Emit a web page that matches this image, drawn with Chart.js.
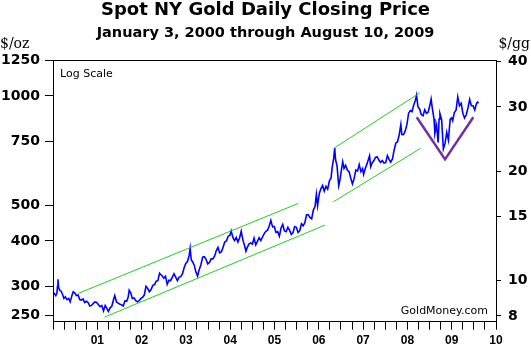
<!DOCTYPE html>
<html>
<head>
<meta charset="utf-8">
<script src="https://cdn.jsdelivr.net/npm/chart.js@4.4.1/dist/chart.umd.min.js"></script>
<style>
  html, body { margin: 0; padding: 0; background: #fff; }
</style>
</head>
<body>
<canvas id="chart" width="531" height="348"></canvas>
<script>
const GRAMS_PER_OZ = 31.1035;

// left axis ($/oz) and right axis ($/gg) tick labels
const ozTicks = [250, 300, 400, 500, 750, 1000, 1250];
const ggTicks = [8, 10, 15, 20, 30, 40];
const ozMin = 240;
const ozMax = 1250;

// spot gold closing price, sampled off the chart (roughly twice a month)
const goldDates = [
  '2000-01-03','2000-01-12','2000-01-24','2000-02-03','2000-02-07','2000-02-11','2000-02-16','2000-02-25','2000-03-08','2000-03-20','2000-03-31','2000-04-12','2000-04-26','2000-05-10','2000-05-22','2000-06-05','2000-06-16','2000-06-28','2000-07-12','2000-07-26','2000-08-09','2000-08-22','2000-09-05','2000-09-19','2000-10-03','2000-10-17','2000-10-31','2000-11-14','2000-11-28','2000-12-12','2000-12-27',
  '2001-01-10','2001-01-24','2001-02-07','2001-02-21','2001-03-07','2001-03-21','2001-04-02','2001-04-17','2001-05-01','2001-05-16','2001-05-25','2001-06-08','2001-06-22','2001-07-06','2001-07-20','2001-08-03','2001-08-17','2001-08-31','2001-09-12','2001-09-21','2001-10-03','2001-10-17','2001-10-31','2001-11-14','2001-11-28','2001-12-12','2001-12-26',
  '2002-01-09','2002-01-23','2002-02-06','2002-02-20','2002-03-06','2002-03-20','2002-04-03','2002-04-17','2002-05-01','2002-05-15','2002-05-29','2002-06-05','2002-06-19','2002-07-03','2002-07-17','2002-07-31','2002-08-14','2002-08-28','2002-09-11','2002-09-25','2002-10-09','2002-10-23','2002-11-06','2002-11-20','2002-12-04','2002-12-18','2002-12-31',
  '2003-01-14','2003-01-28','2003-02-05','2003-02-14','2003-02-28','2003-03-12','2003-03-24','2003-04-07','2003-04-21','2003-05-05','2003-05-19','2003-06-02','2003-06-16','2003-06-30','2003-07-14','2003-07-28','2003-08-11','2003-08-25','2003-09-08','2003-09-22','2003-10-06','2003-10-20','2003-11-03','2003-11-17','2003-12-01','2003-12-15','2003-12-29',
  '2004-01-09','2004-01-23','2004-02-06','2004-02-20','2004-03-05','2004-03-19','2004-04-01','2004-04-15','2004-04-29','2004-05-10','2004-05-21','2004-06-04','2004-06-18','2004-07-02','2004-07-16','2004-07-30','2004-08-13','2004-08-27','2004-09-10','2004-09-24','2004-10-08','2004-10-22','2004-11-05','2004-11-19','2004-12-02','2004-12-16','2004-12-30',
  '2005-01-13','2005-01-27','2005-02-10','2005-02-24','2005-03-10','2005-03-24','2005-04-07','2005-04-21','2005-05-05','2005-05-19','2005-06-02','2005-06-16','2005-06-30','2005-07-14','2005-07-28','2005-08-11','2005-08-25','2005-09-08','2005-09-22','2005-10-06','2005-10-20','2005-11-03','2005-11-17','2005-12-01','2005-12-12','2005-12-22',
  '2006-01-05','2006-01-19','2006-02-01','2006-02-15','2006-03-01','2006-03-15','2006-03-29','2006-04-12','2006-04-21','2006-05-04','2006-05-12','2006-05-19','2006-05-31','2006-06-14','2006-06-23','2006-07-06','2006-07-17','2006-07-28','2006-08-10','2006-08-24','2006-09-07','2006-09-21','2006-10-05','2006-10-19','2006-11-02','2006-11-16','2006-11-30','2006-12-14','2006-12-28',
  '2007-01-05','2007-01-19','2007-02-02','2007-02-23','2007-03-05','2007-03-16','2007-03-30','2007-04-13','2007-04-27','2007-05-11','2007-05-25','2007-06-08','2007-06-22','2007-07-06','2007-07-20','2007-08-03','2007-08-16','2007-08-31','2007-09-14','2007-09-28','2007-10-12','2007-10-26','2007-11-08','2007-11-16','2007-11-30','2007-12-14','2007-12-28',
  '2008-01-11','2008-01-25','2008-02-08','2008-02-22','2008-03-07','2008-03-17','2008-03-28','2008-04-11','2008-04-25','2008-05-09','2008-05-23','2008-06-06','2008-06-20','2008-07-03','2008-07-15','2008-07-25','2008-08-08','2008-08-15','2008-08-29','2008-09-11','2008-09-19','2008-09-26','2008-10-10','2008-10-24','2008-11-07','2008-11-21','2008-12-05','2008-12-19','2008-12-31',
  '2009-01-09','2009-01-23','2009-02-06','2009-02-20','2009-03-06','2009-03-20','2009-04-03','2009-04-17','2009-05-01','2009-05-15','2009-05-29','2009-06-12','2009-06-26','2009-07-10','2009-07-24','2009-08-03','2009-08-10'
];
const goldPrices = [
  285,287,283,288,300,314,299,293,291,285,278,281,276,278,272,283,290,288,283,284,276,275,277,271,273,271,265,266,269,272,271,
  267,264,266,257,266,261,256,262,265,277,283,272,270,268,267,265,274,273,280,293,288,278,279,274,272,274,278,
  280,284,300,296,290,294,302,303,310,311,326,324,321,316,320,304,312,311,318,325,318,311,318,319,325,338,347,
  351,365,382,355,349,342,329,320,334,344,361,362,356,346,349,357,357,363,376,384,371,373,384,397,400,412,414,
  426,409,401,409,397,408,425,402,388,375,384,392,395,392,407,390,399,408,401,410,419,425,428,440,455,437,438,
  422,424,412,434,444,426,424,436,428,417,421,438,436,422,427,446,440,449,472,472,464,460,486,497,537,500,
  540,557,568,548,565,555,584,596,636,676,720,668,644,567,585,625,660,633,645,625,620,595,573,593,626,622,648,620,632,
  609,632,651,685,640,655,664,678,681,667,657,665,654,656,686,670,658,672,711,743,749,784,835,784,783,802,834,
  897,912,905,945,972,1005,933,921,888,882,917,896,902,937,980,925,864,790,831,745,865,894,860,715,741,795,757,862,870,
  855,900,914,995,940,955,897,870,888,927,978,940,940,915,953,962,955
];

// trend channels (green) and the 2008-09 "V" (purple)
const channel1UpperDates = ['2000-07-28', '2005-07-16'];
const channel1UpperPrices = [287, 507];
const channel1LowerDates = ['2001-03-01', '2006-02-21'];
const channel1LowerPrices = [247, 442];
const channel2UpperDates = ['2006-05-10', '2008-04-12'];
const channel2UpperPrices = [720, 1020];
const channel2LowerDates = ['2006-05-01', '2008-04-18'];
const channel2LowerPrices = [512, 718];
const vDates = ['2008-03-18', '2008-11-07', '2009-06-28'];
const vPrices = [874, 670, 874];

function toYear(s) {
  const [y, m, d] = s.split('-').map(Number);
  const start = Date.UTC(y, 0, 1);
  const end = Date.UTC(y + 1, 0, 1);
  return y + (Date.UTC(y, m - 1, d) - start) / (end - start);
}

function points(dates, prices) {
  return dates.map((d, i) => ({ x: toYear(d), y: prices[i] }));
}

function guide(label, dates, prices, color, width) {
  return {
    label: label,
    data: points(dates, prices),
    borderColor: color,
    borderWidth: width,
    pointRadius: 0,
    fill: false,
    tension: 0
  };
}

const GREEN = '#22cc22';
const PURPLE = '#7030a0';

const boldFont = { family: 'DejaVu Sans', size: 14, weight: 'bold' };

// frame, axis units and the two small captions
const extras = {
  id: 'extras',
  afterDraw(chart) {
    const { ctx, chartArea: a } = chart;
    const px = v => Math.round(v - 0.5) + 0.5;
    ctx.save();
    ctx.strokeStyle = '#000';
    ctx.lineWidth = 1;
    ctx.strokeRect(px(a.left), px(a.top), px(a.right) - px(a.left), px(a.bottom) - px(a.top));

    ctx.fillStyle = '#000';
    ctx.textBaseline = 'middle';
    ctx.font = '14px "DejaVu Serif"';
    ctx.textAlign = 'left';
    ctx.fillText('$/oz', 0, 44);
    ctx.textAlign = 'right';
    ctx.fillText('$/gg', 530, 44);

    ctx.font = '11px "DejaVu Sans"';
    ctx.textAlign = 'left';
    ctx.fillText('Log Scale', 60, 74);
    ctx.textAlign = 'right';
    ctx.fillText('GoldMoney.com', 488, 311);
    ctx.restore();
  }
};

new Chart(document.getElementById('chart'), {
  type: 'line',
  data: {
    datasets: [
      guide('Channel 1 upper', channel1UpperDates, channel1UpperPrices, GREEN, 1),
      guide('Channel 1 lower', channel1LowerDates, channel1LowerPrices, GREEN, 1),
      guide('Channel 2 upper', channel2UpperDates, channel2UpperPrices, GREEN, 1),
      guide('Channel 2 lower', channel2LowerDates, channel2LowerPrices, GREEN, 1),
      guide('V', vDates, vPrices, PURPLE, 2.5),
      {
        label: 'Gold',
        data: points(goldDates, goldPrices),
        borderColor: '#0000ff',
        borderWidth: 1.6,
        pointRadius: 0,
        fill: false,
        tension: 0
      }
    ]
  },
  options: {
    responsive: false,
    animation: false,
    layout: { padding: 0 },
    plugins: {
      legend: { display: false },
      tooltip: { enabled: false },
      title: {
        display: true,
        text: 'Spot NY Gold Daily Closing Price',
        color: '#000',
        font: { family: 'DejaVu Sans', size: 18, weight: 'bold' },
        padding: { top: 0, bottom: 0 }
      },
      subtitle: {
        display: true,
        text: 'January 3, 2000 through August 10, 2009',
        color: '#000',
        font: { family: 'DejaVu Sans', size: 14.5, weight: 'bold' },
        padding: { top: 3, bottom: 18.7 }
      }
    },
    scales: {
      x: {
        type: 'linear',
        position: 'bottom',
        min: 2000,
        max: 2010,
        afterFit: s => { s.height = 26.3; },
        grid: { drawOnChartArea: false, drawTicks: true, tickLength: 8, color: '#000' },
        border: { display: true, color: '#000' },
        ticks: {
          stepSize: 0.25,
          autoSkip: false,
          maxRotation: 0,
          padding: 4,
          color: '#000',
          font: { family: 'Liberation Sans', size: 12, weight: 'bold' },
          callback: v => {
            const r = Math.round(v * 4) / 4;
            return (Number.isInteger(r) && r > 2000) ? String(r).slice(2) : '';
          }
        }
      },
      y: {
        type: 'logarithmic',
        position: 'left',
        min: ozMin,
        max: ozMax,
        afterFit: s => { s.width = 53; },
        afterBuildTicks: s => { s.ticks = ozTicks.map(v => ({ value: v })); },
        grid: { drawOnChartArea: false, tickLength: 8, color: '#000' },
        border: { color: '#000' },
        ticks: { autoSkip: false, padding: 5, color: '#000', font: boldFont, callback: v => String(v) }
      },
      y2: {
        type: 'logarithmic',
        position: 'right',
        min: ozMin / GRAMS_PER_OZ,
        max: ozMax / GRAMS_PER_OZ,
        afterFit: s => { s.width = 35; },
        afterBuildTicks: s => { s.ticks = ggTicks.map(v => ({ value: v })); },
        grid: { drawOnChartArea: false, tickLength: 5, color: '#000' },
        border: { color: '#000' },
        ticks: { autoSkip: false, padding: 7, color: '#000', font: boldFont, callback: v => String(v) }
      }
    }
  },
  plugins: [extras]
});
</script>
</body>
</html>
